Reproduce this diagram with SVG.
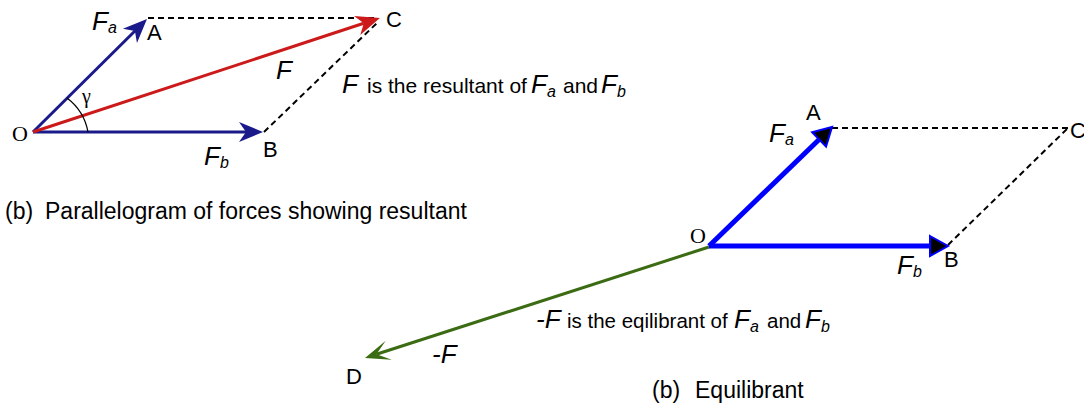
<svg xmlns="http://www.w3.org/2000/svg" width="1084" height="405" viewBox="0 0 1084 405">
<style>
  .sans { font-family: "Liberation Sans", Arial, sans-serif; fill: #000; }
  .serif { font-family: "Liberation Serif", "Times New Roman", serif; fill: #000; }
  .lbl { font-size: 22px; }
  .txt { font-size: 21px; }
  .cap { font-size: 23px; }
  .fi { font-family: "Liberation Sans", Arial, sans-serif; font-style: italic; font-size: 26px; }
  .sub { font-style: italic; font-size: 16px; }
  .dash { stroke: #000; stroke-width: 2; stroke-dasharray: 6 4; fill: none; }
  .navy { stroke: #1a1a8a; stroke-width: 3; fill: none; marker-end: url(#mNavy); }
  .red { stroke: #cc1a1a; stroke-width: 3; fill: none; marker-end: url(#mRed); }
  .blue { stroke: #0000ff; stroke-width: 5; fill: none; marker-end: url(#mBlue); }
  .green { stroke: #3b6b12; stroke-width: 3; fill: none; marker-end: url(#mGreen); }
</style>
<defs>
  <marker id="mNavy" viewBox="-10 -12 30 24" refX="0" refY="0" markerWidth="30" markerHeight="24" markerUnits="userSpaceOnUse" orient="auto">
    <path d="M17,0 L-7,-10 L0,0 L-7,10 z" fill="#1a1a8a"/>
  </marker>
  <marker id="mRed" viewBox="-10 -12 30 24" refX="0" refY="0" markerWidth="30" markerHeight="24" markerUnits="userSpaceOnUse" orient="auto">
    <path d="M17,0 L-7,-10 L0,0 L-7,10 z" fill="#cc1a1a"/>
  </marker>
  <marker id="mBlue" viewBox="-3 -13 24 26" refX="0" refY="0" markerWidth="24" markerHeight="26" markerUnits="userSpaceOnUse" orient="auto">
    <path d="M0,-10 L18,0 L0,10 z" fill="#000" stroke="#0000ff" stroke-width="2"/>
  </marker>
  <marker id="mGreen" viewBox="-15 -12 30 24" refX="0" refY="0" markerWidth="30" markerHeight="24" markerUnits="userSpaceOnUse" orient="auto">
    <path d="M12,0 L-13,-10 L0,0 L-13,10 z" fill="#3b6b12"/>
  </marker>
</defs>

<g id="connectors">
  <!-- left parallelogram -->
  <line class="dash" x1="148" y1="18" x2="378" y2="18"/>
  <line class="dash" x1="264" y1="132" x2="378" y2="22"/>
  <line class="navy" x1="33" y1="132" x2="134.9" y2="31"/>
  <line class="navy" x1="33" y1="132" x2="246" y2="132"/>
  <line class="red" x1="33" y1="132" x2="363.8" y2="23.3"/>
  <path d="M67,98 A55,55 0 0,1 88,132" fill="none" stroke="#000" stroke-width="1.2"/>
  <!-- right parallelogram -->
  <line class="dash" x1="832" y1="128" x2="1068" y2="128"/>
  <line class="dash" x1="948" y1="245" x2="1067" y2="129"/>
  <line class="green" x1="709" y1="247" x2="376.4" y2="354.3"/>
  <line class="blue" x1="709" y1="246" x2="819.1" y2="139.5"/>
  <line class="blue" x1="709" y1="246" x2="930" y2="246"/>
</g>

<g id="node-O1"><text class="serif lbl" x="12" y="141">O</text></g>
<g id="node-gamma"><text class="serif" font-size="20" x="82" y="103">γ</text></g>
<g id="node-A1"><text class="sans lbl" x="147" y="40">A</text></g>
<g id="node-C1"><text class="sans lbl" x="386" y="27">C</text></g>
<g id="node-B1"><text class="sans lbl" x="263" y="157">B</text></g>
<g id="label-Fa1"><text class="fi" x="92" y="30">F<tspan class="sub" dy="3">a</tspan></text></g>
<g id="label-Fb1"><text class="fi" x="204" y="165">F<tspan class="sub" dy="3">b</tspan></text></g>
<g id="label-F"><text class="fi" x="276" y="79">F</text></g>
<g id="label-resultant">
  <text class="fi" x="342" y="93">F</text>
  <text class="sans txt" x="367" y="93">is the resultant of</text>
  <text class="fi" x="531" y="93">F<tspan class="sub" dy="4">a</tspan></text>
  <text class="sans txt" x="563" y="93">and</text>
  <text class="fi" x="601" y="93">F<tspan class="sub" dy="4">b</tspan></text>
</g>
<g id="caption-left"><text class="sans cap" y="219"><tspan x="5">(b)</tspan><tspan x="45">Parallelogram of forces showing resultant</tspan></text></g>

<g id="node-O2"><text class="serif lbl" x="690" y="243">O</text></g>
<g id="node-A2"><text class="sans lbl" x="806" y="120">A</text></g>
<g id="node-C2"><text class="sans lbl" x="1070" y="138">C</text></g>
<g id="node-B2"><text class="sans lbl" x="944" y="267">B</text></g>
<g id="node-D"><text class="sans lbl" x="346" y="384">D</text></g>
<g id="label-Fa2"><text class="fi" x="769" y="142">F<tspan class="sub" dy="3">a</tspan></text></g>
<g id="label-Fb2"><text class="fi" x="897" y="274">F<tspan class="sub" dy="3">b</tspan></text></g>
<g id="label-minusF"><text class="fi" x="432" y="363">-F</text></g>
<g id="label-equilibrant">
  <text class="fi" x="536" y="328">-F</text>
  <text class="sans" font-size="20.5" x="567" y="328">is the eqilibrant of</text>
  <text class="fi" x="734" y="328">F<tspan class="sub" dy="4">a</tspan></text>
  <text class="sans" font-size="20.5" x="767" y="328">and</text>
  <text class="fi" x="805" y="328">F<tspan class="sub" dy="4">b</tspan></text>
</g>
<g id="caption-right"><text class="sans cap" y="398"><tspan x="652">(b)</tspan><tspan x="695">Equilibrant</tspan></text></g>
</svg>
